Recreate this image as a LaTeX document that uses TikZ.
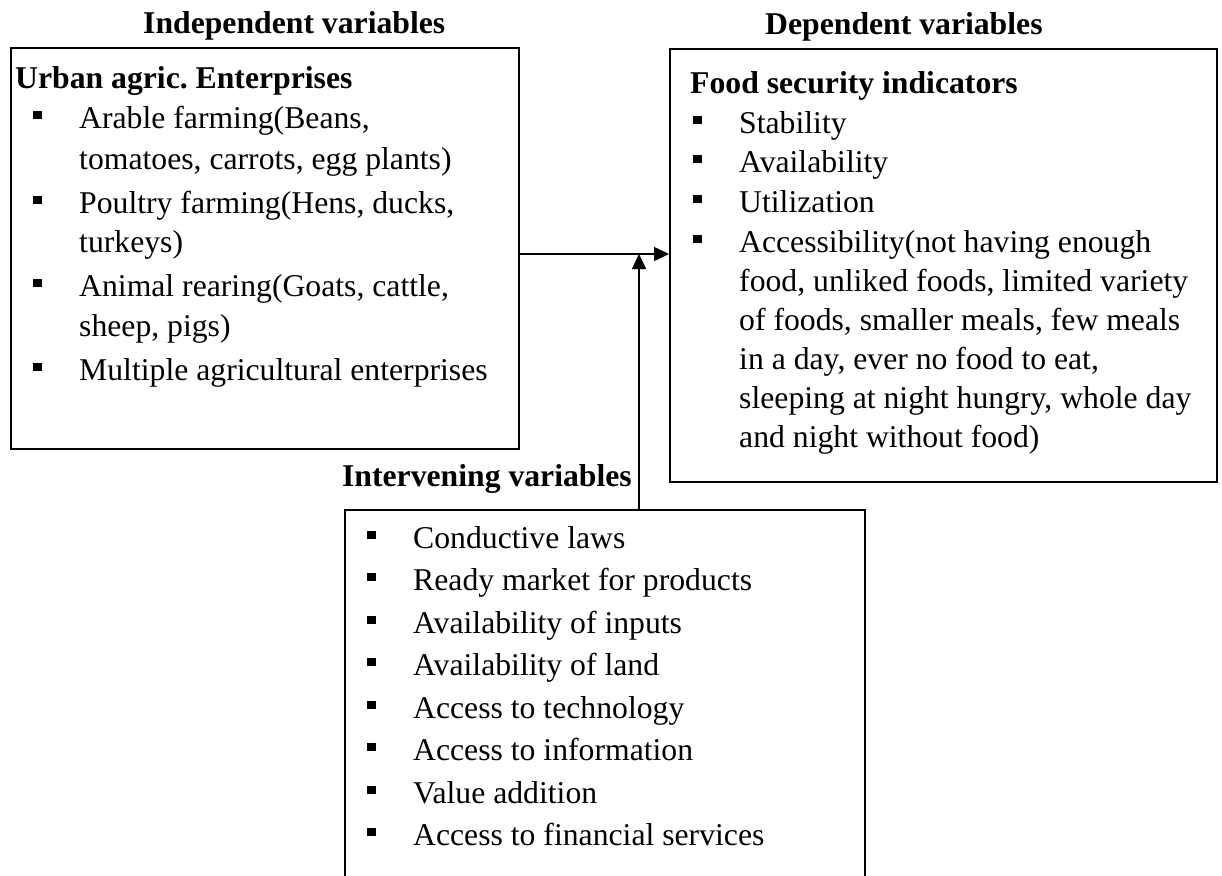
\documentclass[tikz,border=0pt]{standalone}
\usepackage{fontspec}
\setmainfont{Liberation Serif}
\usetikzlibrary{arrows.meta}
\begin{document}
\frenchspacing
\begin{tikzpicture}[x=1pt,y=-1pt,
  boxstyle/.style={draw, line width=1.6pt, inner sep=0pt, anchor=north west},
  txt/.style={anchor=base west, inner sep=0pt, font=\fontsize{31.7}{36}\selectfont},
  hdr/.style={anchor=base west, inner sep=0pt, font=\fontsize{31.7}{36}\selectfont\bfseries},
  bul/.style={fill=black, draw=none, minimum size=8.5pt, inner sep=0pt, anchor=south west},
  arr/.style={line width=1.6pt, -{Triangle[length=15pt,width=14pt]}}
]
\clip (0,0) rectangle (1222,875);
\fill[white] (0,0) rectangle (1222,875);

% headings
\node[hdr] (hind) at (143,34) {Independent variables};
\node[hdr] (hdep) at (765,35) {Dependent variables};
\node[hdr, anchor=base east] (hint) at (632,486) {Intervening variables};

% boxes
\node[boxstyle, minimum width=508pt, minimum height=401pt] (indep) at (10,47) {};
\node[boxstyle, minimum width=547pt, minimum height=433pt] (dep) at (669,48) {};
\node[boxstyle, minimum width=520pt, minimum height=400pt] (interv) at (344,509) {};

% left box content
\node[hdr] (ltitle) at (15,88) {Urban agric. Enterprises};
\foreach \yy/\tt [count=\i] in {128/{Arable farming(Beans,},169/{tomatoes, carrots, egg plants)},213/{Poultry farming(Hens, ducks,},252/{turkeys)},296/{Animal rearing(Goats, cattle,},336/{sheep, pigs)},380/{Multiple agricultural enterprises}}
  \node[txt] (lt\i) at (79,\yy) {\tt};
\foreach \yy [count=\i] in {128,213,296,380}
  \node[bul] (lb\i) at (33,\yy-8.5) {};

% right box content
\node[hdr] (rtitle) at (690,93) {Food security indicators};
\foreach \yy/\tt [count=\i] in {133/{Stability},172/{Availability},212/{Utilization},252/{Accessibility(not having enough},291/{food, unliked foods, limited variety},330/{of foods, smaller meals, few meals},369/{in a day, ever no food to eat,},408/{sleeping at night hungry, whole day},447/{and night without food)}}
  \node[txt] (rt\i) at (739,\yy) {\tt};
\foreach \yy [count=\i] in {133,172,212,252}
  \node[bul] (rb\i) at (693,\yy-8.5) {};

% bottom box content
\foreach \yy/\tt [count=\i] in {548/{Conductive laws},590/{Ready market for products},633/{Availability of inputs},675/{Availability of land},718/{Access to technology},760/{Access to information},803/{Value addition},845/{Access to financial services}}
  {\node[txt] (bt\i) at (413,\yy) {\tt};
   \node[bul] (bb\i) at (367,\yy-8.5) {};}

% connectors
\coordinate (lvl) at (0,254);
\coordinate (vx) at (639,0);
\draw[arr] (indep.east |- lvl) -- (dep.west |- lvl);
\draw[arr] (interv.north -| vx) -- (vx |- lvl);
\end{tikzpicture}
\end{document}
